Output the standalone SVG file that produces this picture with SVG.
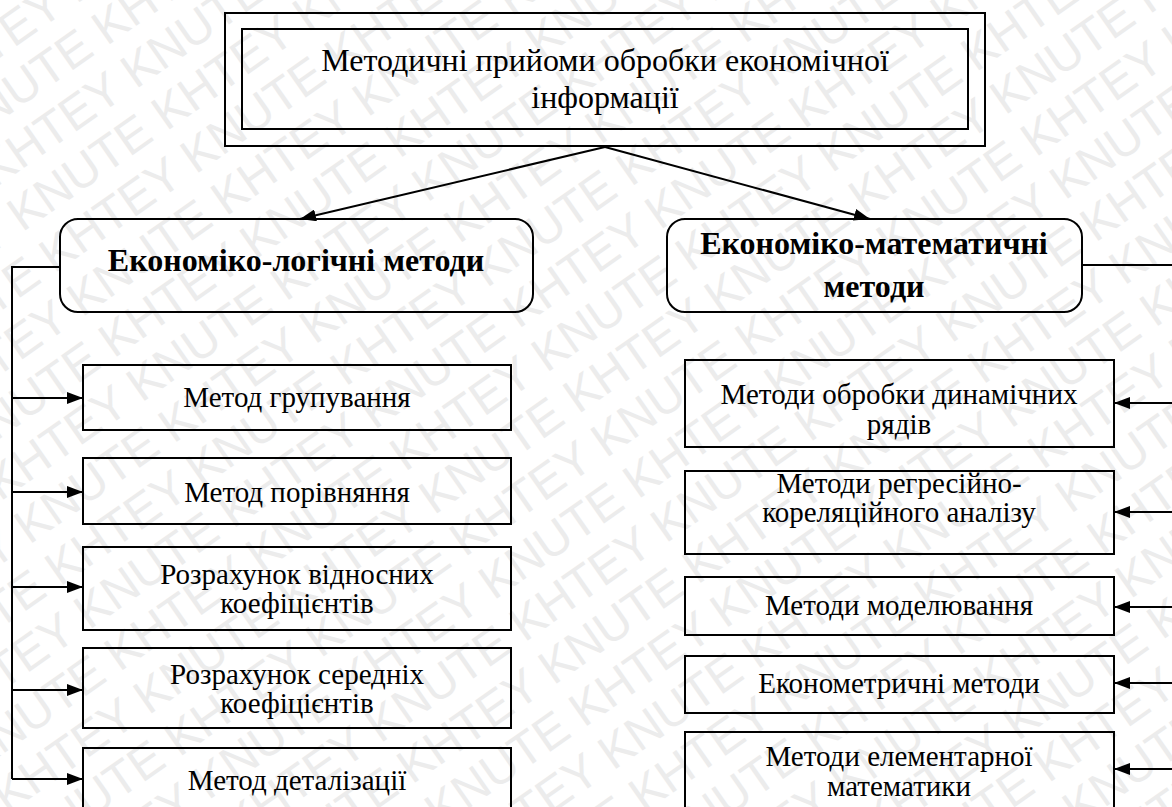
<svg xmlns="http://www.w3.org/2000/svg" width="1172" height="807" viewBox="0 0 1172 807">
<style>
.box{fill:none;stroke:#000;stroke-width:2}
.c{fill:none;stroke:#000;stroke-width:2}
</style>
<defs>
<marker id="ah" viewBox="0 0 16 12" refX="16" refY="6" markerWidth="16" markerHeight="12" markerUnits="userSpaceOnUse" orient="auto"><path d="M0,0 L16,6 L0,12 z" fill="#000"/></marker>
<text id="wl" font-family="Liberation Sans, Arial, sans-serif" font-size="48" fill="#ececec">KNUTE KHTEY KNUTE KHTEY KNUTE KHTEY KNUTE KHTEY KNUTE KHTEY KNUTE KHTEY KNUTE KHTEY</text>
</defs>
<rect width="1172" height="807" fill="#fff"/>
<g id="watermark" transform="rotate(-35 586 403)">
<use href="#wl" x="-300" y="-320"/><use href="#wl" x="-475" y="-268"/>
<use href="#wl" x="-300" y="-216"/><use href="#wl" x="-475" y="-164"/>
<use href="#wl" x="-300" y="-112"/><use href="#wl" x="-475" y="-60"/>
<use href="#wl" x="-300" y="-8"/><use href="#wl" x="-475" y="44"/>
<use href="#wl" x="-300" y="96"/><use href="#wl" x="-475" y="148"/>
<use href="#wl" x="-300" y="200"/><use href="#wl" x="-475" y="252"/>
<use href="#wl" x="-300" y="304"/><use href="#wl" x="-475" y="356"/>
<use href="#wl" x="-300" y="408"/><use href="#wl" x="-475" y="460"/>
<use href="#wl" x="-300" y="512"/><use href="#wl" x="-475" y="564"/>
<use href="#wl" x="-300" y="616"/><use href="#wl" x="-475" y="668"/>
<use href="#wl" x="-300" y="720"/><use href="#wl" x="-475" y="772"/>
<use href="#wl" x="-300" y="824"/><use href="#wl" x="-475" y="876"/>
<use href="#wl" x="-300" y="928"/><use href="#wl" x="-475" y="980"/>
<use href="#wl" x="-300" y="1032"/><use href="#wl" x="-475" y="1084"/>
<use href="#wl" x="-300" y="1136"/><use href="#wl" x="-475" y="1188"/>
</g>
<g id="connectors">
<path class="c" d="M605,147 L300,219" marker-end="url(#ah)"/>
<path class="c" d="M605,147 L870,219" marker-end="url(#ah)"/>
<path class="c" d="M60,267 H12 V779"/>
<path class="c" d="M12,398 H83" marker-end="url(#ah)"/>
<path class="c" d="M12,492 H83" marker-end="url(#ah)"/>
<path class="c" d="M12,587 H83" marker-end="url(#ah)"/>
<path class="c" d="M12,690 H83" marker-end="url(#ah)"/>
<path class="c" d="M12,779 H83" marker-end="url(#ah)"/>
<path class="c" d="M1082,265 H1176 V769"/>
<path class="c" d="M1176,403 H1114" marker-end="url(#ah)"/>
<path class="c" d="M1176,512 H1114" marker-end="url(#ah)"/>
<path class="c" d="M1176,607 H1114" marker-end="url(#ah)"/>
<path class="c" d="M1176,683 H1114" marker-end="url(#ah)"/>
<path class="c" d="M1176,769 H1114" marker-end="url(#ah)"/>
</g>
<g id="nodes" font-family="Liberation Serif, Times New Roman, serif" font-size="29" fill="#000" text-anchor="middle">
<g id="root" font-size="32">
<rect class="box" x="225" y="13" width="760" height="133"/>
<rect class="box" x="242" y="29" width="726" height="100"/>
<text x="605" y="71">Методичні прийоми обробки економічної</text>
<text x="605" y="108">інформації</text>
</g>
<g id="logic" font-weight="bold" font-size="32">
<rect class="box" x="60" y="219" width="473" height="93" rx="18"/>
<text x="296" y="271">Економіко-логічні методи</text>
</g>
<g id="math" font-weight="bold" font-size="32">
<rect class="box" x="667" y="219" width="415" height="93" rx="18"/>
<text x="874" y="254">Економіко-математичні</text>
<text x="874" y="297">методи</text>
</g>
<g id="l1"><rect class="box" x="83" y="365" width="428" height="65"/><text x="297" y="407">Метод групування</text></g>
<g id="l2"><rect class="box" x="83" y="458" width="428" height="66"/><text x="297" y="502">Метод порівняння</text></g>
<g id="l3"><rect class="box" x="83" y="547" width="428" height="83"/><text x="297" y="584">Розрахунок відносних</text><text x="297" y="613">коефіцієнтів</text></g>
<g id="l4"><rect class="box" x="83" y="648" width="428" height="80"/><text x="297" y="684">Розрахунок середніх</text><text x="297" y="713">коефіцієнтів</text></g>
<g id="l5"><rect class="box" x="83" y="748" width="428" height="80"/><text x="297" y="790">Метод деталізації</text></g>
<g id="r1"><rect class="box" x="685" y="360" width="429" height="87"/><text x="899" y="404">Методи обробки динамічних</text><text x="899" y="434">рядів</text></g>
<g id="r2"><rect class="box" x="685" y="471" width="429" height="83"/><text x="899" y="493">Методи регресійно-</text><text x="899" y="522">кореляційного аналізу</text></g>
<g id="r3"><rect class="box" x="685" y="577" width="429" height="58"/><text x="899" y="615">Методи моделювання</text></g>
<g id="r4"><rect class="box" x="685" y="656" width="429" height="57"/><text x="899" y="693">Економетричні методи</text></g>
<g id="r5"><rect class="box" x="685" y="732" width="429" height="90"/><text x="899" y="766">Методи елементарної</text><text x="899" y="796">математики</text></g>
</g>
</svg>
